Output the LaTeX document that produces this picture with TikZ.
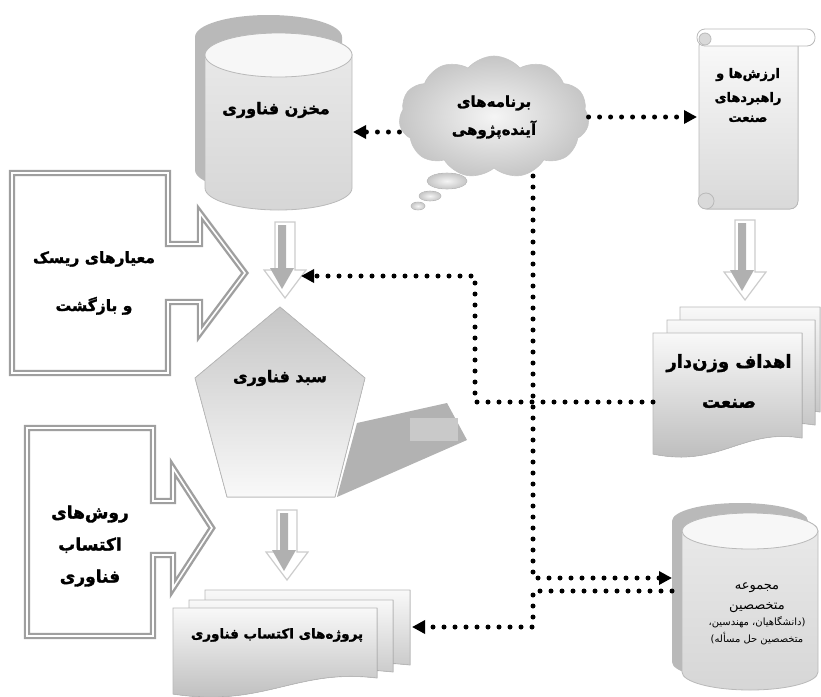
\documentclass[tikz,border=0pt]{standalone}
\usepackage{fontspec}
\newfontfamily\fa[Script=Arabic,BoldFeatures={FakeBold=1.7}]{DejaVu Sans}
\TeXXeTstate=1
\usetikzlibrary{arrows.meta,shapes.symbols,positioning}

\newcommand{\rl}[1]{\beginR#1\endR}
% cylinder body: style, cx, top y, bottom y, rx, ry
\newcommand{\drum}[6]{%
  \path[#1] (#2-#5,#3) -- (#2-#5,#4) arc[start angle=180,end angle=0,x radius=#5,y radius=#6]
    -- (#2+#5,#3) arc[start angle=0,end angle=-180,x radius=#5,y radius=#6] -- cycle;}
% page with wavy foot: left, top, right, foot y
\newcommand{\paper}[4]{%
  \filldraw[shade] (#1,#2) -- (#3,#2) -- (#3,#4)
    .. controls ({#3-0.4*(#3-#1)},#4-10) and ({#1+0.45*(#3-#1)},#4+30) .. (#1,#4+16) -- cycle;}
% hollow down arrow: name, x, top, tip
\newcommand{\hollowdown}[4]{%
  \draw[hollow] (#2-10,#3) -- (#2+10,#3) -- (#2+10,#4-28) -- (#2+21,#4-28) -- (#2,#4)
    -- (#2-21,#4-28) -- (#2-10,#4-28) -- cycle;
  \fill[gray!62] (#2-7,#3+3) -- (#2+1,#3+3) -- (#2+1,#4-30) -- (#2+9,#4-30) -- (#2-3,#4-9)
    -- (#2-15,#4-30) -- (#2-7,#4-30) -- cycle;
  \coordinate (#1) at (#2+16,#4-22);}

\begin{document}
\begin{tikzpicture}[x=1pt,y=-1pt,>={Triangle[length=13pt,width=13pt]},semithick]
  \tikzstyle{dots}=[black,line width=5pt,dash pattern=on 0pt off 11pt,line cap=round]
  \tikzstyle{rim}=[draw=gray!55,line width=0.8pt]
  \tikzstyle{shade}=[rim,top color=gray!5,bottom color=gray!55]
  \tikzstyle{block}=[draw=gray!75,double=white,double distance=1.6pt,line width=2.4pt]
  \tikzstyle{hollow}=[draw=gray!40,fill=white,line width=1.2pt]
  \tikzstyle{title}=[font=\fa\bfseries\fontsize{16}{20}\selectfont,align=center,inner sep=0pt]
  \tikzstyle{small}=[font=\fa\fontsize{13}{16}\selectfont,align=center,inner sep=0pt]

  \useasboundingbox (0,0) rectangle (821,696);

  % technology store
  \drum{fill=gray!55}{268.5}{37}{170}{73.5}{22}
  \drum{rim,top color=gray!16,bottom color=gray!32}{278.5}{55}{188}{73.5}{22}
  \filldraw[rim,fill=gray!6] (278.5,55) ellipse [x radius=73.5,y radius=22];
  \node[title] (store) at (276,110) {\rl{مخزن فناوری}};
  \coordinate (storeE) at (353,132);

  % foresight cloud
  \foreach \cx/\cy/\rx/\ry in {447/181/20/8, 430/196/11/5, 418/206/7/4}
    \filldraw[draw=gray!45,inner color=gray!8,outer color=gray!45] (\cx,\cy) ellipse [x radius=\rx,y radius=\ry];
  \node[cloud,cloud puffs=11,cloud puff arc=100,aspect=1.5,minimum width=190pt,minimum height=122pt,
        draw=gray!45,inner color=gray!8,outer color=gray!45,title,font=\fa\bfseries\fontsize{15}{20}\selectfont] (cloud) at (494,117)
        {\rl{برنامه^^^^200cهای}\\[8pt]\rl{آینده^^^^200cپژوهی}};
  \coordinate (cloudS) at (533,176);

  % scroll
  \filldraw[rim,top color=gray!4,bottom color=gray!30,rounded corners=8] (699,38) -- (798,38) -- (798,209) -- (699,209) -- cycle;
  \filldraw[rim,fill=white,rounded corners=8] (697,29) rectangle (815,46);
  \filldraw[rim,fill=gray!30] (705,39) circle (6);
  \filldraw[rim,fill=gray!30] (706,201) circle (8);
  \node[title,font=\fa\bfseries\fontsize{13}{16}\selectfont] (values) at (748,95)
        {\rl{ارزش^^^^200cها و}\\[8pt]\rl{راهبردهای}\\[4pt]\rl{صنعت}};
  \coordinate (scrollW) at (697,117);

  % down arrows
  \hollowdown{a1}{285}{222}{298}
  \hollowdown{a2}{287}{510}{580}
  \hollowdown{a3}{745}{220}{300}

  % risk and methods blocks
  \filldraw[block,fill=white] (12,173) -- (168,173) -- (168,244) -- (200,244) -- (200,213) -- (245,273)
    -- (200,333) -- (200,302) -- (168,302) -- (168,373) -- (12,373) -- cycle;
  \node[title,font=\fa\bfseries\fontsize{15.5}{20}\selectfont] (risk) at (94,283)
        {\rl{معیارهای ریسک}\\[28pt]\rl{و بازگشت}};
  \filldraw[block,fill=white] (27,428) -- (153,428) -- (153,501) -- (173,501) -- (173,468) -- (212,528)
    -- (173,588) -- (173,555) -- (153,555) -- (153,636) -- (27,636) -- cycle;
  \node[title,font=\fa\bfseries\fontsize{17}{20}\selectfont] (methods) at (90,546)
        {\rl{روش^^^^200cهای}\\[12pt]\rl{اکتساب}\\[12pt]\rl{فناوری}};

  % technology basket
  \fill[gray!60] (337,497) -- (357,423) -- (447,403) -- (467,440) -- cycle;
  \fill[gray!42] (410,418) rectangle (458,441);
  \filldraw[rim,top color=gray!45,bottom color=gray!5] (280,307) -- (365,378) -- (335,497) -- (227,497) -- (195,378) -- cycle;
  \node[title] (basket) at (280,378) {\rl{سبد فناوری}};

  % weighted goals
  \paper{680}{307}{820}{412}
  \paper{667}{320}{815}{425}
  \paper{653}{333}{802}{438}
  \node[title,font=\fa\bfseries\fontsize{18}{20}\selectfont] (goals) at (729,381)
        {\rl{اهداف وزن^^^^200cدار}\\[20pt]\rl{صنعت}};
  \coordinate (goalsW) at (653,402);

  % acquisition projects
  \paper{205}{590}{410}{665}
  \paper{189}{600}{393}{672}
  \paper{173}{608}{377}{678}
  \node[title,font=\fa\bfseries\fontsize{13.5}{20}\selectfont] (projects) at (277,635) {\rl{پروژه^^^^200cهای اکتساب فناوری}};
  \coordinate (projE) at (412,627);

  % experts
  \drum{fill=gray!55}{740}{521}{662}{68}{18}
  \drum{rim,top color=gray!16,bottom color=gray!32}{750}{531}{672}{68}{18}
  \filldraw[rim,fill=gray!6] (750,531) ellipse [x radius=68,y radius=18];
  \node[small] (experts) at (757,614)
        {\rl{مجموعه}\\[4pt]\rl{متخصصین}\\{\fontsize{10}{12}\selectfont\rl{(دانشگاهیان، مهندسین،}}\\[1pt]
         {\fontsize{10}{12}\selectfont\rl{متخصصین حل مسأله)}}};
  \coordinate (expW1) at (672,578);
  \coordinate (expW2) at (672,591);

  % dotted links
  \draw[dots,->] (cloud.west |- storeE) -- (storeE);
  \draw[dots,->] (cloud.east) -- (cloud.east -| scrollW);
  \draw[dots,->] (goalsW) -- ++(-178,0) |- (a1);
  \draw[dots,->] (cloudS) |- (expW1);
  \draw[dots,->] (expW2) -- (cloudS |- expW2) -- (cloudS |- projE) -- (projE);
\end{tikzpicture}
\end{document}
